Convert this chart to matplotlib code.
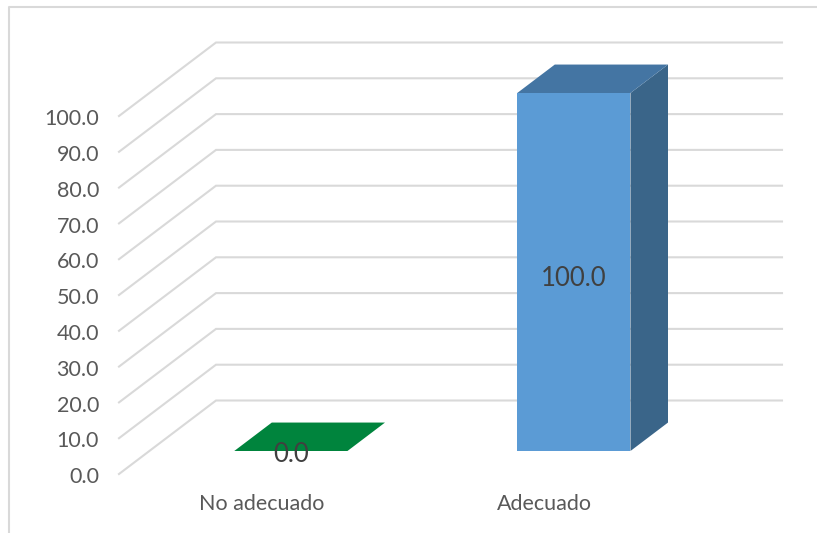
import numpy as np
import matplotlib
matplotlib.use('Agg')
import matplotlib.pyplot as plt
from matplotlib.patches import Polygon

categories = ['No adecuado', 'Adecuado']
values = [0.0, 100.0]
ticks = [0, 10, 20, 30, 40, 50, 60, 70, 80, 90, 100]
front_colors = ['#00843d', '#5b9bd5']
top_colors = ['#00843d', '#4475a3']
side_colors = ['#00843d', '#3a6589']

W, H = 817, 533
grid_col = '#d9d9d9'
plt.rcParams['font.family'] = ['Lato', 'DejaVu Sans']

# one x unit = one category, one y unit = one percent
px_x = 283.0
px_y = 3.58
x0_px = 119.0
y0_px = 474.0
depth_x = 97.0 / px_x
depth_y = 73.5 / px_y
bar_w = 0.4
d_front = 0.313
d_back = 0.70

fig = plt.figure(figsize=(W / 100, H / 100), dpi=100)
ax = fig.add_axes([0, 0, 1, 1])
ax.set_xlim(-x0_px / px_x, (W - x0_px) / px_x)
ax.set_ylim(-(H - y0_px) / px_y, y0_px / px_y)
ax.axis('off')

# outer chart border, only top and left show in the crop
fig.add_artist(plt.Line2D([9 / W, 9 / W, 1], [0, 1 - 7 / H, 1 - 7 / H], color=grid_col, lw=1.5))

for t in ticks:
    ax.plot([0, depth_x, 2 + depth_x], [t, t + depth_y, t + depth_y], color=grid_col, lw=1.5,
            solid_joinstyle='miter', zorder=1)
    ax.text(-20 / px_x, t - 0.9, '%.1f' % t, ha='right', va='center', fontsize=15.5, color='#595959')

for i in range(len(categories)):
    v = values[i]
    xl = i + 0.5 - bar_w / 2 + d_front * depth_x
    xr = xl + bar_w
    yb = d_front * depth_y
    yt = yb + v
    dx = (d_back - d_front) * depth_x
    dy = (d_back - d_front) * depth_y
    ax.add_patch(Polygon([(xl, yb), (xr, yb), (xr, yt), (xl, yt)], fc=front_colors[i], ec='none', zorder=3))
    ax.add_patch(Polygon([(xr, yb), (xr + dx, yb + dy), (xr + dx, yt + dy), (xr, yt)], fc=side_colors[i], ec='none', zorder=3))
    ax.add_patch(Polygon([(xl, yt), (xr, yt), (xr + dx, yt + dy), (xl + dx, yt + dy)], fc=top_colors[i], ec='none', zorder=3))
    ax.text((xl + xr) / 2, yb + v * 0.49 - 0.9, '%.1f' % v, ha='center', va='center', fontsize=18.5, color='#404040', zorder=4)
    ax.text(i + 0.5 + 0.003, -8.3, categories[i], ha='center', va='center', fontsize=15.5, color='#595959')

fig.savefig('out.png', dpi=100)
